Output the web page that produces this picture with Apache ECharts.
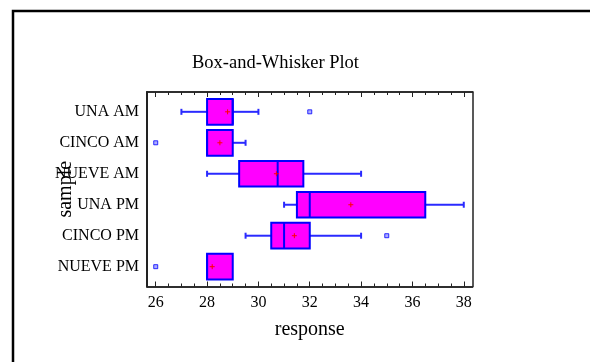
<!DOCTYPE html>
<html>
<head>
<meta charset="utf-8">
<script src="https://cdn.jsdelivr.net/npm/echarts@6/dist/echarts.min.js"></script>
<style>html,body{margin:0;padding:0;background:#fff}#c{width:590px;height:362px}</style>
</head>
<body>
<div id="c"></div>
<script>
// Categories, top to bottom
var categories = ['UNA AM', 'CINCO AM', 'NUEVE AM', 'UNA PM', 'CINCO PM', 'NUEVE PM'];
var whiskerLow  = [27,   28,   28,    31,   29.5, 28];
var q1          = [28,   28,   29.25, 31.5, 30.5, 28];
var median      = [29,   28,   30.75, 32,   31,   28];
var q3          = [29,   29,   31.75, 36.5, 32,   29];
var whiskerHigh = [30,   29.5, 34,    38,   34,   29];
var means       = [28.8, 28.5, 30.7,  33.6, 31.4, 28.2];
var outlierValues = [32, 26, 35, 26];
var outlierCats   = ['UNA AM', 'CINCO AM', 'CINCO PM', 'NUEVE PM'];
var xTickLabels = [26, 28, 30, 32, 34, 36, 38];
var xMinorTicks = [];
for (var t = 26; t <= 38; t += 0.5) xMinorTicks.push(t);

var n = categories.length;
function catPos(name) { return n - categories.indexOf(name); }

var boxData = categories.map(function (c, i) {
  return [n - i, whiskerLow[i], q1[i], median[i], q3[i], whiskerHigh[i], means[i]];
});
var outlierData = outlierValues.map(function (v, i) { return [v, catPos(outlierCats[i])]; });

var FONT = 'Liberation Serif';
var X_MIN = 25.66, X_MAX = 38.34, Y_MIN = 0.36, Y_MAX = 6.64;

function xAxisBase(pos) {
  return {
    type: 'value', position: pos, min: X_MIN, max: X_MAX,
    axisLine: { show: true, onZero: false, lineStyle: { color: '#222', width: 1.5 } },
    splitLine: { show: false },
    axisLabel: { show: false },
    axisTick: { show: true, inside: true }
  };
}

var xAxes = [];
var a0 = xAxisBase('bottom');
a0.axisTick = { show: true, inside: true, length: 5, lineStyle: { color: '#222', width: 1 }, customValues: xTickLabels };
a0.axisLabel = { show: true, customValues: xTickLabels, fontFamily: FONT, fontSize: 16, color: '#000', margin: 8 };
a0.name = 'response'; a0.nameLocation = 'middle'; a0.nameGap = 33; a0.nameMoveOverlap = false;
a0.nameTextStyle = { fontFamily: FONT, fontSize: 20, color: '#000' };
xAxes.push(a0);
var a1 = xAxisBase('bottom');
a1.axisTick = { show: true, inside: true, length: 3, lineStyle: { color: '#222', width: 1 }, customValues: xMinorTicks };
xAxes.push(a1);
var a2 = xAxisBase('top');
a2.axisTick = { show: true, inside: true, length: 5, lineStyle: { color: '#222', width: 1 }, customValues: xTickLabels };
xAxes.push(a2);
var a3 = xAxisBase('top');
a3.axisTick = { show: true, inside: true, length: 3, lineStyle: { color: '#222', width: 1 }, customValues: xMinorTicks };
xAxes.push(a3);

var option = {
  backgroundColor: '#fff',
  animation: false,
  title: {
    text: 'Box-and-Whisker Plot', left: 192, top: 54, padding: 0,
    textStyle: { fontFamily: FONT, fontSize: 18.5, fontWeight: 'normal', color: '#000' }
  },
  graphic: [{
    type: 'rect', shape: { x: 13, y: 11, width: 620, height: 400 },
    style: { fill: 'none', stroke: '#000', lineWidth: 2.5 }, silent: true
  }],
  grid: { left: 147, top: 92, right: 117.5, bottom: 75.5, containLabel: false },
  xAxis: xAxes,
  yAxis: [{
    type: 'value', position: 'left', min: Y_MIN, max: Y_MAX,
    axisLine: { show: true, onZero: false, lineStyle: { color: '#222', width: 2 } },
    axisTick: { show: false }, splitLine: { show: false },
    axisLabel: {
      customValues: [1, 2, 3, 4, 5, 6], fontFamily: FONT, fontSize: 16, color: '#000', margin: 8,
      formatter: function (v) { return categories[n - Math.round(v)]; }
    },
    name: 'sample', nameLocation: 'middle', nameGap: 71, nameRotate: 90, nameMoveOverlap: false,
    nameTextStyle: { fontFamily: FONT, fontSize: 20, color: '#000' }
  }, {
    type: 'value', position: 'right', min: Y_MIN, max: Y_MAX,
    axisLine: { show: true, onZero: false, lineStyle: { color: '#222', width: 1.5 } },
    axisTick: { show: false }, splitLine: { show: false }, axisLabel: { show: false }
  }],
  series: [{
    type: 'custom',
    xAxisIndex: 0, yAxisIndex: 0,
    data: boxData,
    renderItem: function (params, api) {
      var y = api.value(0);
      var lo = api.coord([api.value(1), y]);
      var b1 = api.coord([api.value(2), y]);
      var md = api.coord([api.value(3), y]);
      var b3 = api.coord([api.value(4), y]);
      var hi = api.coord([api.value(5), y]);
      var mn = api.coord([api.value(6), y]);
      var h = api.size([0, 0.83])[1];
      var cap = 3;
      var cy = lo[1];
      var blue = '#0000ff', wblue = '#2a2aff';
      var children = [];
      if (api.value(1) < api.value(2)) {
        children.push({ type: 'line', shape: { x1: lo[0], y1: cy, x2: b1[0], y2: cy }, style: { stroke: wblue, lineWidth: 2 } });
        children.push({ type: 'line', shape: { x1: lo[0], y1: cy - cap, x2: lo[0], y2: cy + cap }, style: { stroke: wblue, lineWidth: 2 } });
      }
      if (api.value(5) > api.value(4)) {
        children.push({ type: 'line', shape: { x1: b3[0], y1: cy, x2: hi[0], y2: cy }, style: { stroke: wblue, lineWidth: 2 } });
        children.push({ type: 'line', shape: { x1: hi[0], y1: cy - cap, x2: hi[0], y2: cy + cap }, style: { stroke: wblue, lineWidth: 2 } });
      }
      children.push({ type: 'rect', shape: { x: b1[0], y: cy - h / 2, width: b3[0] - b1[0], height: h }, style: { fill: '#ff00ff', stroke: blue, lineWidth: 2 } });
      children.push({ type: 'line', shape: { x1: md[0], y1: cy - h / 2, x2: md[0], y2: cy + h / 2 }, style: { stroke: blue, lineWidth: 2 } });
      children.push({ type: 'line', shape: { x1: mn[0] - 2.5, y1: cy, x2: mn[0] + 2.5, y2: cy }, style: { stroke: '#ff0000', lineWidth: 1 } });
      children.push({ type: 'line', shape: { x1: mn[0], y1: cy - 2.5, x2: mn[0], y2: cy + 2.5 }, style: { stroke: '#ff0000', lineWidth: 1 } });
      return { type: 'group', children: children };
    }
  }, {
    type: 'scatter',
    xAxisIndex: 0, yAxisIndex: 0,
    data: outlierData,
    symbol: 'rect', symbolSize: 4,
    itemStyle: { color: '#9999ff', borderColor: '#0000ff', borderWidth: 1 }
  }]
};

var chart = echarts.init(document.getElementById('c'), null, { renderer: 'canvas' });
chart.setOption(option);
</script>
</body>
</html>
